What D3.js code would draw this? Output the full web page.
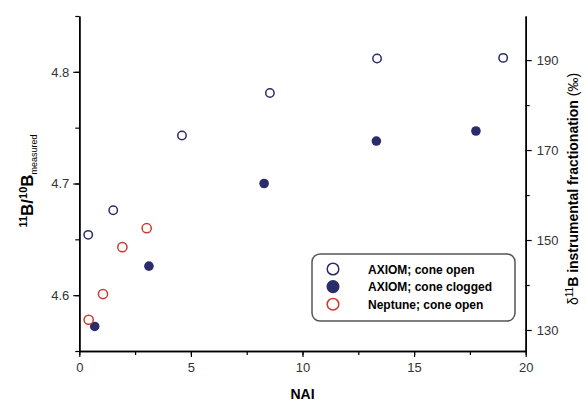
<!DOCTYPE html>
<html>
<head>
<meta charset="utf-8">
<script src="https://cdn.jsdelivr.net/npm/d3@7"></script>
<style>
  body { margin: 0; background: #fff; }
  #container { width: 587px; height: 403px; }
  text { font-family: "Liberation Sans", Arial, sans-serif; }
</style>
</head>
<body>
<div id="container"></div>
<script>
// values
var axiomOpenX = [0.40, 1.52, 4.60, 8.54, 13.34, 18.99];
var axiomOpenY = [4.654, 4.676, 4.743, 4.781, 4.812, 4.8125];
var axiomClogX = [0.69, 3.12, 8.28, 13.31, 17.77];
var axiomClogY = [4.572, 4.626, 4.700, 4.738, 4.747];
var neptuneX = [0.42, 1.06, 1.93, 3.02];
var neptuneY = [4.578, 4.601, 4.643, 4.660];

var xTicks = [0, 5, 10, 15, 20];
var yTicks = [4.6, 4.7, 4.8];
var y2Ticks = [130, 150, 170, 190];
var legendLabels = ["AXIOM; cone open", "AXIOM; cone clogged", "Neptune; cone open"];

var navy = "#2b2d6b";
var red = "#cf3a2c";

var width = 587, height = 403;
var plotLeft = 79.3, plotRight = 525.7, plotTop = 16, plotBottom = 351;

var x = d3.scaleLinear().domain([0, 20]).range([plotLeft, plotRight]);
var y = d3.scaleLinear().domain([4.55, 4.85]).range([plotBottom, plotTop]);
var y2 = d3.scaleLinear().domain([125.33, 199.8]).range([plotBottom, plotTop]);

var svg = d3.select("#container").append("svg")
    .attr("width", width)
    .attr("height", height);

function zip(xs, ys) {
    return xs.map(function(v, i) { return {x: v, y: ys[i]} });
}

function styleAxis(g) {
    g.selectAll(".domain").attr("stroke", "#000").attr("stroke-width", 1.5);
    g.selectAll(".tick line").attr("stroke", "#000").attr("stroke-width", 1.2);
    g.selectAll(".tick text").attr("fill", "#333").style("font-size", "13px")
        .style("font-family", "'Liberation Sans', Arial, sans-serif");
}

// minor ticks first, so the major ones sit on top
var minorX = svg.append("g").attr("transform", "translate(0," + plotBottom + ")")
    .call(d3.axisBottom(x).tickValues(d3.range(0, 20.01, 2.5)).tickSize(4).tickFormat("").tickSizeOuter(0));
styleAxis(minorX);
var xAxis = svg.append("g").attr("transform", "translate(0," + plotBottom + ")")
    .call(d3.axisBottom(x).tickValues(xTicks).tickSize(6).tickPadding(6).tickSizeOuter(0).tickFormat(d3.format("d")));
styleAxis(xAxis);

var minorY = svg.append("g").attr("transform", "translate(" + plotLeft + ",0)")
    .call(d3.axisLeft(y).tickValues(d3.range(4.55, 4.851, 0.05)).tickSize(4).tickFormat("").tickSizeOuter(0));
styleAxis(minorY);
var yAxis = svg.append("g").attr("transform", "translate(" + plotLeft + ",0)")
    .call(d3.axisLeft(y).tickValues(yTicks).tickSize(6).tickPadding(4).tickSizeOuter(0).tickFormat(d3.format(".1f")));
styleAxis(yAxis);

var minorY2 = svg.append("g").attr("transform", "translate(" + plotRight + ",0)")
    .call(d3.axisRight(y2).tickValues([140, 160, 180]).tickSize(4).tickFormat("").tickSizeOuter(0));
styleAxis(minorY2);
var y2Axis = svg.append("g").attr("transform", "translate(" + plotRight + ",0)")
    .call(d3.axisRight(y2).tickValues(y2Ticks).tickSize(6).tickPadding(5).tickSizeOuter(0).tickFormat(d3.format("d")));
styleAxis(y2Axis);

// axis titles
svg.append("text")
    .attr("x", x(10))
    .attr("y", 399)
    .attr("text-anchor", "middle")
    .style("font-size", "14px")
    .style("font-weight", "bold")
    .text("NAI");

var yTitle = svg.append("text")
    .attr("transform", "translate(33,181) rotate(-90)")
    .attr("text-anchor", "middle")
    .style("font-weight", "bold")
    .style("font-size", "17px");
yTitle.append("tspan").attr("dy", -6).style("font-size", "11px").text("11");
yTitle.append("tspan").attr("dy", 6).text("B/");
yTitle.append("tspan").attr("dy", -6).style("font-size", "11px").text("10");
yTitle.append("tspan").attr("dy", 6).text("B");
yTitle.append("tspan").attr("dy", 4).style("font-size", "9px").style("font-weight", "normal").text("measured");

var y2Title = svg.append("text")
    .attr("transform", "translate(578,189) rotate(-90)")
    .attr("text-anchor", "middle")
    .style("font-weight", "bold")
    .style("font-size", "14px");
y2Title.append("tspan").style("font-weight", "normal").text("δ");
y2Title.append("tspan").attr("dy", -5).style("font-size", "10px").style("font-weight", "normal").text("11");
y2Title.append("tspan").attr("dy", 5).text("B instrumental fractionation ");
y2Title.append("tspan").style("font-weight", "normal").text("(‰)");

// points
svg.selectAll("circle.open")
    .data(zip(axiomOpenX, axiomOpenY))
    .enter().append("circle")
    .attr("class", "open")
    .attr("cx", function(d) { return x(d.x) })
    .attr("cy", function(d) { return y(d.y) })
    .attr("r", 4.2)
    .attr("fill", "#fff")
    .attr("stroke", navy)
    .attr("stroke-width", 1.5);

svg.selectAll("circle.clog")
    .data(zip(axiomClogX, axiomClogY))
    .enter().append("circle")
    .attr("class", "clog")
    .attr("cx", function(d) { return x(d.x) })
    .attr("cy", function(d) { return y(d.y) })
    .attr("r", 4.8)
    .attr("fill", navy);

svg.selectAll("circle.nep")
    .data(zip(neptuneX, neptuneY))
    .enter().append("circle")
    .attr("class", "nep")
    .attr("cx", function(d) { return x(d.x) })
    .attr("cy", function(d) { return y(d.y) })
    .attr("r", 4.6)
    .attr("fill", "#fff")
    .attr("stroke", red)
    .attr("stroke-width", 1.5);

// legend
var legend = svg.append("g").attr("transform", "translate(312,254)");
legend.append("rect")
    .attr("width", 203)
    .attr("height", 67)
    .attr("rx", 8)
    .attr("fill", "#fff")
    .attr("stroke", "#555")
    .attr("stroke-width", 1.5);

var legendStyle = [
    {fill: "#fff", stroke: navy},
    {fill: navy, stroke: navy},
    {fill: "#fff", stroke: red}
];
var item = legend.selectAll("g.item")
    .data(legendLabels)
    .enter().append("g")
    .attr("class", "item")
    .attr("transform", function(d, i) { return "translate(0," + (15 + i * 17.6) + ")" });
item.append("circle")
    .attr("cx", 21)
    .attr("r", 5.8)
    .attr("fill", function(d, i) { return legendStyle[i].fill })
    .attr("stroke", function(d, i) { return legendStyle[i].stroke })
    .attr("stroke-width", 1.5);
item.append("text")
    .attr("x", 56)
    .attr("y", 4.5)
    .style("font-size", "12px")
    .style("font-weight", "bold")
    .text(function(d) { return d });
</script>
</body>
</html>
